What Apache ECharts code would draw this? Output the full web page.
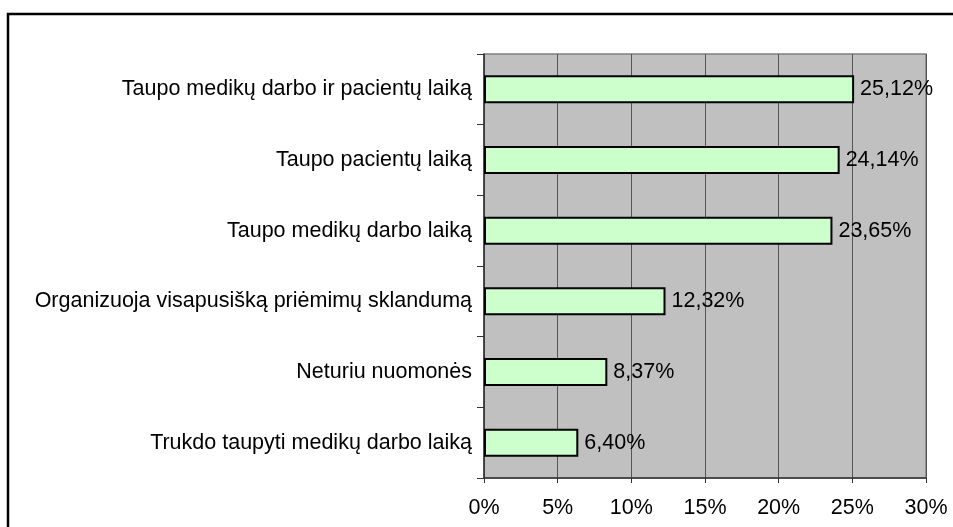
<!DOCTYPE html>
<html>
<head>
<meta charset="utf-8">
<script src="https://cdn.jsdelivr.net/npm/echarts@6/dist/echarts.min.js"></script>
<style>
html,body{margin:0;padding:0;background:#fff;}
#chart{width:953px;height:527px;}
</style>
</head>
<body>
<div id="chart"></div>
<script>
const categories = [
  "Taupo medikų darbo ir pacientų laiką",
  "Taupo pacientų laiką",
  "Taupo medikų darbo laiką",
  "Organizuoja visapusišką priėmimų sklandumą",
  "Neturiu nuomonės",
  "Trukdo taupyti medikų darbo laiką"
];
const values = [25.12, 24.14, 23.65, 12.32, 8.37, 6.40];
const xTicks = [0, 5, 10, 15, 20, 25, 30];

const FONT = "'Liberation Sans', Arial, sans-serif";
const FS = 21.5;
const chart = echarts.init(document.getElementById('chart'), null, {renderer: 'canvas'});
chart.setOption({
  animation: false,
  backgroundColor: '#ffffff',
  textStyle: {fontFamily: FONT},
  graphic: [{
    type: 'rect',
    z: 100,
    shape: {x: 8, y: 14, width: 1200, height: 800},
    style: {fill: 'none', stroke: '#000', lineWidth: 2.5}
  }],
  grid: {
    left: 484, top: 54, right: 27, bottom: 49,
    show: true, backgroundColor: '#C0C0C0', borderColor: '#808080', borderWidth: 1.5
  },
  xAxis: {
    type: 'value',
    min: xTicks[0], max: xTicks[xTicks.length - 1], interval: 5,
    axisLine: {show: true, onZero: false, lineStyle: {color: '#333', width: 1.5}},
    axisTick: {show: true, length: 5, lineStyle: {color: '#333'}},
    axisLabel: {formatter: '{value}%', color: '#000', fontSize: FS, fontFamily: FONT, margin: 19},
    splitLine: {show: true, lineStyle: {color: '#555', width: 1}}
  },
  yAxis: {
    type: 'category',
    inverse: true,
    data: categories,
    axisLine: {show: true, lineStyle: {color: '#333', width: 1.5}},
    axisTick: {show: true, length: 7, lineStyle: {color: '#333'}},
    axisLabel: {color: '#000', fontSize: FS, fontFamily: FONT, margin: 12},
    splitLine: {show: false}
  },
  series: [{
    type: 'bar',
    data: values,
    barWidth: 28,
    itemStyle: {color: '#CCFFCC', borderColor: '#000', borderWidth: 2},
    label: {
      show: true, position: 'right', distance: 6,
      color: '#000', fontSize: FS, fontFamily: FONT,
      formatter: p => p.value.toFixed(2).replace('.', ',') + '%'
    }
  }]
});
</script>
</body>
</html>
